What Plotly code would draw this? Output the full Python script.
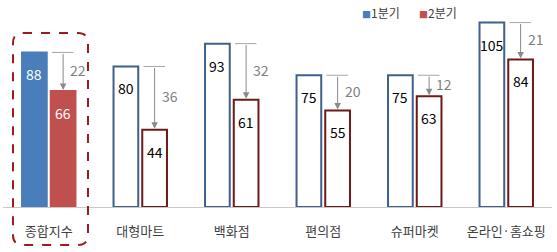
import plotly.graph_objects as go

categories = ["종합지수", "대형마트", "백화점", "편의점", "슈퍼마켓", "온라인·홈쇼핑"]
q1 = [88, 80, 93, 75, 75, 105]
q2 = [66, 44, 61, 55, 63, 84]
series_names = ["1분기", "2분기"]

idx = list(range(len(categories)))
diff = [a - b for a, b in zip(q1, q2)]

BLUE_FILL = "#4a7ebb"
RED_FILL = "#c0504d"
BLUE_LINE = "#3f5f8c"
RED_LINE = "#701818"
FONT = "Noto Sans CJK KR"

bw = 0.27
gap = 0.022

q1_fill = [BLUE_FILL if i == 0 else "white" for i in idx]
q2_fill = [RED_FILL if i == 0 else "white" for i in idx]
q1_line = [BLUE_FILL if i == 0 else BLUE_LINE for i in idx]
q2_line = [RED_FILL if i == 0 else RED_LINE for i in idx]

fig = go.Figure()
fig.add_trace(go.Bar(x=idx, y=q1, width=bw, offset=-gap - bw, name=series_names[0],
                     marker=dict(color=q1_fill, line=dict(color=q1_line, width=2))))
fig.add_trace(go.Bar(x=idx, y=q2, width=bw, offset=gap, name=series_names[1],
                     marker=dict(color=q2_fill, line=dict(color=q2_line, width=2))))

ann = []
shapes = []
for i in idx:
    xc1 = i - gap - bw / 2
    xc2 = i + gap + bw / 2
    tc = "white" if i == 0 else "black"
    ann.append(dict(x=xc1, y=q1[i], text=str(q1[i]), showarrow=False, yanchor="top", yshift=-10,
                    font=dict(size=14, color=tc, family=FONT)))
    ann.append(dict(x=xc2, y=q2[i], text=str(q2[i]), showarrow=False, yanchor="top", yshift=-10,
                    font=dict(size=14, color=tc, family=FONT)))
    # arrow
    ann.append(dict(x=xc2, y=q2[i], ax=xc2, ay=q1[i], axref="x", ayref="y", xref="x", yref="y",
                    text="", showarrow=True, arrowhead=2, arrowsize=1.3, arrowwidth=1,
                    arrowcolor="#8a8a8a", standoff=1))
    shapes.append(dict(type="line", xref="x", yref="y", x0=i + 0.035, x1=i + 0.27,
                       y0=q1[i], y1=q1[i], line=dict(color="#a6a6a6", width=1)))
    ann.append(dict(x=xc2, y=(q1[i] + q2[i]) / 2, text=str(diff[i]), showarrow=False,
                    xanchor="left", xshift=5, yshift=2,
                    font=dict(size=14, color="#808080", family=FONT)))

# legend
ann.append(dict(xref="paper", yref="paper", x=0.650, y=0.965, xanchor="left", yanchor="middle",
                text=f"<span style='color:{BLUE_FILL};font-size:9px'>■</span>{series_names[0]}",
                showarrow=False, font=dict(size=12, color="#404040", family=FONT)))
ann.append(dict(xref="paper", yref="paper", x=0.755, y=0.965, xanchor="left", yanchor="middle",
                text=f"<span style='color:{RED_FILL};font-size:9px'>■</span>{series_names[1]}",
                showarrow=False, font=dict(size=12, color="#404040", family=FONT)))

# dashed rounded highlight box (paper coords)
x0, x1, y0, y1 = 0.0182, 0.1548, -0.188, 0.861
rx, ry = 0.0182, 0.0495
path = (f"M {x0+rx},{y1} L {x1-rx},{y1} Q {x1},{y1} {x1},{y1-ry} "
        f"L {x1},{y0+ry} Q {x1},{y0} {x1-rx},{y0} L {x0+rx},{y0} "
        f"Q {x0},{y0} {x0},{y0+ry} L {x0},{y1-ry} Q {x0},{y1} {x0+rx},{y1} Z")
shapes.append(dict(type="path", xref="paper", yref="paper", path=path,
                   line=dict(color="#9e1b1b", width=2, dash="dash")))

fig.update_layout(
    width=557, height=252,
    margin=dict(l=3, r=5, t=5, b=45),
    plot_bgcolor="white", paper_bgcolor="white",
    showlegend=False,
    annotations=ann, shapes=shapes,
    font=dict(family=FONT),
    xaxis=dict(range=[-0.5, 5.5], tickvals=idx, ticktext=categories, showgrid=False,
               zeroline=False, showline=True, linecolor="#c8c8c8", linewidth=1,
               ticks="", ticklabelstandoff=12,
               tickfont=dict(size=13, color="#404040", family=FONT)),
    yaxis=dict(range=[0, 115], visible=False, showgrid=False, zeroline=False),
)

fig.write_html("out.html")
